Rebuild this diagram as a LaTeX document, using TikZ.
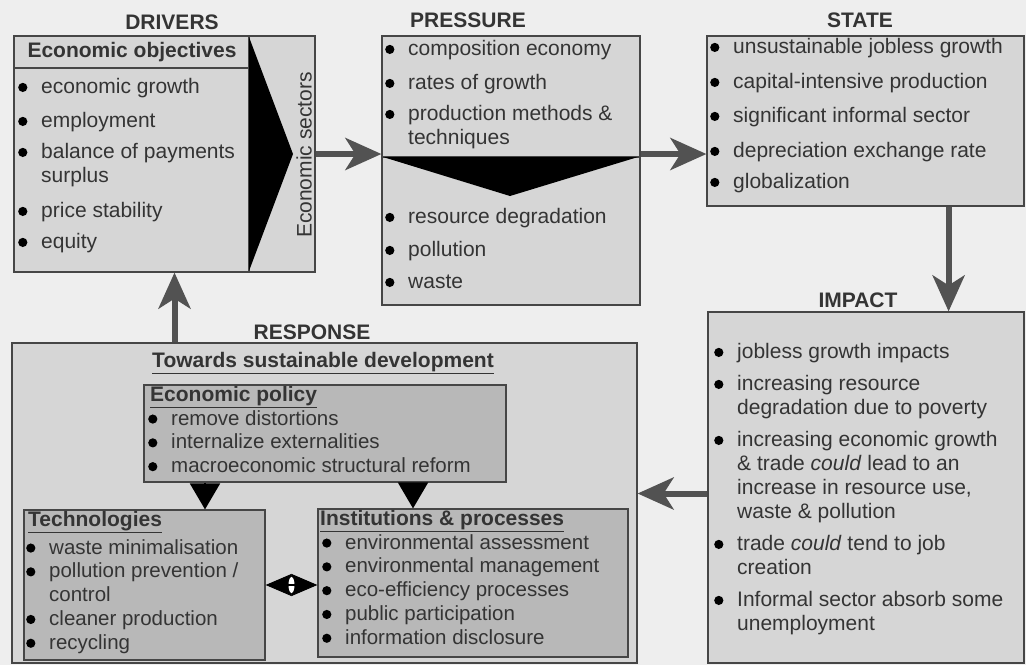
\documentclass[tikz,border=0pt]{standalone}
\usepackage{fontspec}
\setmainfont{Liberation Sans}
\usetikzlibrary{arrows.meta}

\definecolor{pagebg}{RGB}{238,238,238}
\definecolor{boxfill}{RGB}{214,214,214}
\definecolor{innerfill}{RGB}{184,184,184}
\definecolor{edge}{RGB}{70,70,70}
\definecolor{arrgray}{RGB}{82,82,82}
\definecolor{ink}{RGB}{52,52,52}

\newcommand{\bl}{\makebox[23pt][l]{\tikz[baseline=-6pt]\fill[black] (0pt,0pt) circle[radius=4.6pt];}}
\newcommand{\hg}{\hspace*{23pt}}

\tikzset{
  box/.style={draw=edge, line width=1.2pt, fill=boxfill, inner sep=0pt},
  inbox/.style={box, fill=innerfill},
  head/.style={font=\bfseries\fontsize{21}{24}\selectfont, text=ink},
  subhead/.style={head, anchor=west, inner sep=0pt},
  items/.style={anchor=north west, align=left, inner sep=0pt, font=\fontsize{21}{24}\selectfont, text=ink},
  initems/.style={items, font=\fontsize{20.5}{23.8}\selectfont},
  flow/.style={draw=arrgray, line width=6pt, -{Stealth[length=36pt,width=32pt,inset=10pt]}},
  tip/.style={draw=black, line width=2pt, -{Triangle[length=26pt,width=30pt]}},
  dtip/.style={draw=black, line width=1pt, {Triangle[length=26pt,width=22pt]}-{Triangle[length=26pt,width=22pt]}},
}

\begin{document}
\begin{tikzpicture}[x=1pt, y=-1pt]
    \useasboundingbox (0,0) rectangle (1026,665);
    \fill[pagebg] (0,0) rectangle (1026,665);

    % boxes
    \node[box, minimum width=301pt, minimum height=236pt] (drivers) at (164.5,154) {};
    \node[box, minimum width=258pt, minimum height=269pt] (pressure) at (511,170.5) {};
    \node[box, minimum width=317pt, minimum height=170pt] (state) at (865.5,121) {};
    \node[box, minimum width=316pt, minimum height=351pt] (impact) at (866,487.5) {};
    \node[box, minimum width=625pt, minimum height=320pt] (response) at (324.5,503) {};
    \node[inbox, minimum width=362pt, minimum height=97pt] (policy) at (325,433.5) {};
    \node[inbox, minimum width=241pt, minimum height=150pt] (tech) at (144.5,585) {};
    \node[inbox, minimum width=310pt, minimum height=148pt] (inst) at (473,583) {};

    % drivers details
    \draw[edge, line width=1.2pt] (14,68) -- (249,68);
    \draw[edge, line width=1.2pt] (249,36) -- (249,272);
    \fill[black] (249,37) -- (293,154) -- (249,271) -- cycle;
    \node[rotate=90, font=\fontsize{21}{24}\selectfont, text=ink] (sectors) at (304,155) {Economic sectors};

    % pressure details
    \draw[edge, line width=1.2pt] (382,157) -- (640,157);
    \fill[black] (383,157) -- (510,196) -- (638,157) -- cycle;

    % headings
    \node[head] (drvlab) at (172,22) {DRIVERS};
    \node[head] (prslab) at (468,20) {PRESSURE};
    \node[head] (stlab) at (860,20) {STATE};
    \node[head] (implab) at (858,300) {IMPACT};
    \node[head] (reslab) at (312,332) {RESPONSE};
    \node[head] (objlab) at (132,52) {Economic objectives};
    \node[head] (towlab) at (323,363) {\underline{Towards sustainable development}};
    \node[subhead] (pollab) at (150,397) {\underline{Economic policy}};
    \node[subhead] (teclab) at (28,522) {\underline{Technologies}};
    \node[subhead] (inslab) at (320,521) {\underline{Institutions \& processes}};

    % lists
    \node[items] (drvlist) at (18,78) {\bl economic growth\\[10pt]
        \bl employment\\[7pt]
        \bl balance of payments\\
        \hg surplus\\[11pt]
        \bl price stability\\[7pt]
        \bl equity};
    \node[items] (prstop) at (385,40) {\bl composition economy\\[10pt]
        \bl rates of growth\\[7pt]
        \bl production methods \&\\
        \hg techniques};
    \node[items] (prsbot) at (385,208) {\bl resource degradation\\[9pt]
        \bl pollution\\[8pt]
        \bl waste};
    \node[items] (stlist) at (710,38) {\bl unsustainable jobless growth\\[11pt]
        \bl capital-intensive production\\[10pt]
        \bl significant informal sector\\[11pt]
        \bl depreciation exchange rate\\[7pt]
        \bl globalization};
    \node[items] (implist) at (714,343) {\bl jobless growth impacts\\[8pt]
        \bl increasing resource\\
        \hg degradation due to poverty\\[8pt]
        \bl increasing economic growth\\
        \hg \& trade \textit{could} lead to an\\
        \hg increase in resource use,\\
        \hg waste \& pollution\\[8pt]
        \bl trade \textit{could} tend to job\\
        \hg creation\\[8pt]
        \bl Informal sector absorb some\\
        \hg unemployment};
    \node[initems] (pollist) at (148,410) {\bl remove distortions\\
        \bl internalize externalities\\
        \bl macroeconomic structural reform};
    \node[initems] (teclist) at (26,539) {\bl waste minimalisation\\
        \bl pollution prevention /\\
        \hg control\\
        \bl cleaner production\\
        \bl recycling};
    \node[initems] (inslist) at (322,534) {\bl environmental assessment\\
        \bl environmental management\\
        \bl eco-efficiency processes\\
        \bl public participation\\
        \bl information disclosure};

    % connectors
    \draw[flow] (drivers.east) -- (drivers.east -| pressure.west);
    \draw[flow] (pressure.east |- drivers.east) -- (state.west |- drivers.east);
    \coordinate (sdrop) at ([xshift=-76pt]state.south east);
    \draw[flow] (sdrop) -- (sdrop |- impact.north);
    \coordinate (iout) at ([yshift=-6pt]impact.west);
    \draw[flow] (iout) -- (iout -| response.east);
    \coordinate (rup) at ([xshift=10pt]drivers.south);
    \draw[flow] (rup |- response.north) -- (rup);

    \coordinate (tdown) at (205,0);
    \coordinate (idown) at (413,0);
    \draw[tip] (tdown |- policy.south) -- (tdown |- tech.north);
    \draw[tip] (idown |- policy.south) -- (idown |- inst.north);
    \draw[dtip] (tech.east) -- (tech.east -| inst.west);
    \coordinate (dmid) at (291.5,585);
    \fill[white] (dmid) ellipse[x radius=3pt, y radius=8pt];
    \draw[black, line width=1.5pt] ([xshift=-4pt]dmid) -- ([xshift=4pt]dmid);
\end{tikzpicture}
\end{document}
